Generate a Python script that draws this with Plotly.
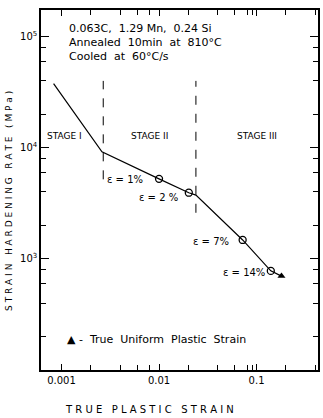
import plotly.graph_objects as go

# Curve vertices (true plastic strain, strain hardening rate MPa)
curve_strain = [0.00083, 0.0026, 0.0100, 0.0202, 0.0239, 0.072, 0.140, 0.180]
curve_rate = [37800, 9200, 5250, 3940, 3750, 1480, 780, 700]

# Marked strains (open circles)
point_strain = [0.0100, 0.0202, 0.072, 0.140]
point_rate = [5250, 3940, 1480, 780]
point_labels = ["ε = 1%", "ε = 2 %", "ε = 7%", "ε = 14%"]

# True uniform plastic strain (triangle)
uniform_strain = [0.180]
uniform_rate = [700]

# Stage boundaries
stage_bounds = [0.00268, 0.0239]

x_ticks = [0.001, 0.01, 0.1]
x_ticktext = ["0.001", "0.01", "0.1"]
y_ticks = [1e3, 1e4, 1e5]
y_ticktext = ["10<sup>3</sup>", "10<sup>4</sup>", "10<sup>5</sup>"]
x_minor = [0.002, 0.004, 0.006, 0.008, 0.02, 0.04, 0.06, 0.08, 0.09, 0.2, 0.4]
y_minor = [m * d for d in (100, 1000, 10000) for m in (2, 4, 6, 8)]

FONT = "DejaVu Sans"

fig = go.Figure()
fig.add_trace(go.Scatter(x=curve_strain, y=curve_rate, mode="lines",
                         line=dict(color="black", width=1.2), hoverinfo="skip"))
fig.add_trace(go.Scatter(x=point_strain, y=point_rate, mode="markers",
                         marker=dict(symbol="circle-open", size=7, color="black",
                                     line=dict(width=1.3))))
fig.add_trace(go.Scatter(x=uniform_strain, y=uniform_rate, mode="markers",
                         marker=dict(symbol="triangle-up", size=7, color="black")))

stage_tops = [40000, 40000]
stage_bottoms = [5200, 2600]
for xb, yt, yb in zip(stage_bounds, stage_tops, stage_bottoms):
    fig.add_trace(go.Scatter(x=[xb, xb], y=[yb, yt], mode="lines",
                             line=dict(color="black", width=1, dash="dash"),
                             hoverinfo="skip"))

annotations = []
def txt(x, y, s, size=10, anchor="left", xref="paper", yref="paper"):
    annotations.append(dict(x=x, y=y, xref=xref, yref=yref, text=s, showarrow=False,
                            xanchor=anchor, yanchor="middle",
                            font=dict(family=FONT, size=size, color="black")))

# header text (paper coords)
txt(0.095, 0.95, "0.063C,  1.29 Mn,  0.24 Si", 11)
txt(0.095, 0.91, "Annealed  10min  at  810°C", 11)
txt(0.095, 0.87, "Cooled  at  60°C/s", 11)
txt(0.015, 0.65, "STAGE I", 9)
txt(0.39, 0.65, "STAGE II", 9, "center")
txt(0.78, 0.65, "STAGE III", 9, "center")

# point labels
label_pos = [(0.232, 0.528), (0.345, 0.48), (0.54, 0.358), (0.65, 0.272)]
for (lx, ly), s in zip(label_pos, point_labels):
    txt(lx, ly, s, 10)

txt(0.085, 0.085, "▲ -  True  Uniform  Plastic  Strain", 11)

# axis titles
annotations.append(dict(x=-0.115, y=0.47, xref="paper", yref="paper",
                        text="S T R A I N   H A R D E N I N G   R A T E   ( M P a )",
                        textangle=-90, showarrow=False, xanchor="center", yanchor="middle",
                        font=dict(family=FONT, size=9, color="black")))
annotations.append(dict(x=0.39, y=-0.11, xref="paper", yref="paper",
                        text="T R U E   P L A S T I C   S T R A I N",
                        showarrow=False, xanchor="center", yanchor="middle",
                        font=dict(family=FONT, size=10, color="black")))

fig.update_layout(
    width=323, height=418,
    margin=dict(l=41, r=3, t=10, b=48),
    paper_bgcolor="white", plot_bgcolor="white",
    showlegend=False,
    annotations=annotations,
    font=dict(family=FONT, size=10, color="black"),
)
fig.update_xaxes(type="log", range=[-3.21, -0.37],
                 tickvals=x_ticks, ticktext=x_ticktext,
                 ticks="inside", ticklen=6, tickwidth=1, tickcolor="black",
                 showline=True, linecolor="black", linewidth=1.5, mirror="ticks",
                 showgrid=False, zeroline=False,
                 minor=dict(tickvals=x_minor, ticks="inside", ticklen=5,
                            tickcolor="black", showgrid=False),
                 tickfont=dict(family=FONT, size=10))
fig.update_yaxes(type="log", range=[2, 5.24],
                 tickvals=y_ticks, ticktext=y_ticktext,
                 ticks="inside", ticklen=8, tickwidth=1, tickcolor="black",
                 showline=True, linecolor="black", linewidth=1.5, mirror="ticks",
                 showgrid=False, zeroline=False,
                 minor=dict(tickvals=y_minor, ticks="inside", ticklen=5,
                            tickcolor="black", showgrid=False),
                 tickfont=dict(family=FONT, size=10))

fig.write_html("out.html")
